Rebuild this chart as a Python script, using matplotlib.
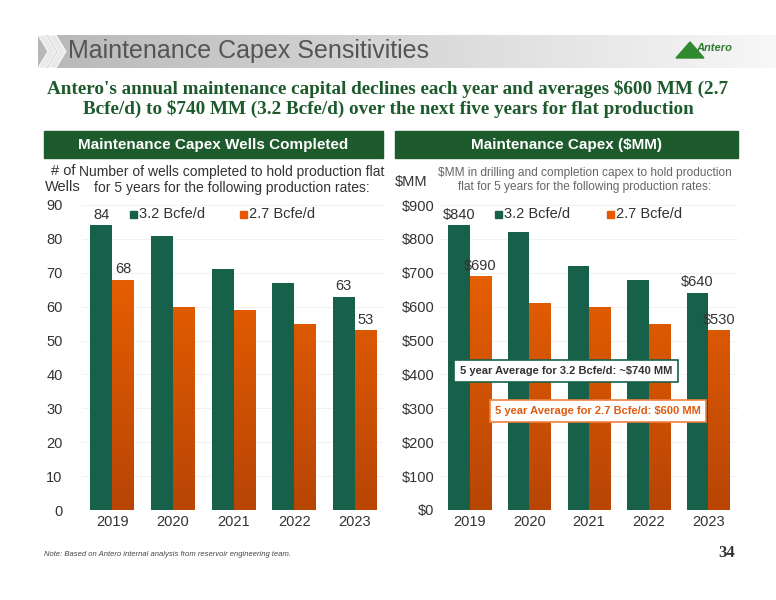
import numpy as np
import matplotlib
matplotlib.use("Agg")
import matplotlib.pyplot as plt
from matplotlib.patches import Rectangle, Polygon

plt.rcParams["font.family"] = ["Liberation Sans", "DejaVu Sans"]

years = ["2019", "2020", "2021", "2022", "2023"]
wells_32 = [84, 81, 71, 67, 63]
wells_27 = [68, 60, 59, 55, 53]
capex_32 = [840, 820, 720, 680, 640]
capex_27 = [690, 610, 600, 550, 530]

GREEN = "#17614a"
DKGREEN = "#1d5a2c"
ORANGE_TOP = np.array([0xf4, 0x66, 0x00]) / 255
ORANGE_BOT = np.array([0xb8, 0x45, 0x05]) / 255
W, H = 776, 600

fig = plt.figure(figsize=(7.76, 6), dpi=100)


def fx(x):
    return x / W


def fy(y):
    return 1 - y / H


# header band
grad = np.linspace(0.72, 0.97, 256)[None, :]
bg = fig.add_axes([fx(38), fy(68), fx(738), (68 - 35) / H])
bg.imshow(np.dstack([grad] * 3), aspect="auto", extent=[0, 1, 0, 1])
bg.axis("off")
for dx in (0, 10):
    fig.patches.append(Polygon([(fx(38 + dx), fy(35)), (fx(46 + dx), fy(35)), (fx(56 + dx), fy(51.5)),
                                (fx(46 + dx), fy(68)), (fx(38 + dx), fy(68)), (fx(48 + dx), fy(51.5))],
                               closed=True, transform=fig.transFigure, color="white", alpha=0.7))
fig.text(fx(68), fy(51), "Maintenance Capex Sensitivities", fontsize=18, color="#555555", va="center")
fig.patches.append(Polygon([(fx(676), fy(58)), (fx(690), fy(42)), (fx(704), fy(58))], closed=True,
                           transform=fig.transFigure, color="#2f8a2f"))
fig.text(fx(696), fy(51), "Antero", fontsize=8, color="#2f7a2f", fontstyle="italic", fontweight="bold")

fig.text(0.5, fy(99), "Antero's annual maintenance capital declines each year and averages $600 MM (2.7\n"
         "Bcfe/d) to $740 MM (3.2 Bcfe/d) over the next five years for flat production",
         ha="center", va="center", fontsize=13.8, fontweight="bold", color=DKGREEN,
         family="Liberation Serif", linespacing=1.2)

# section headers
for x0, x1, txt in [(44, 383, "Maintenance Capex Wells Completed"), (395, 738, "Maintenance Capex ($MM)")]:
    fig.patches.append(Rectangle((fx(x0), fy(158)), fx(x1 - x0), 27 / H, transform=fig.transFigure,
                                 color=DKGREEN))
    fig.text(fx((x0 + x1) / 2), fy(145), txt, ha="center", va="center", color="white", fontsize=11,
             fontweight="bold")


def draw(ax, v32, v27, ymax, step, fmt, labels):
    x = np.arange(len(years))
    bw = 0.36
    ax.bar(x - bw / 2, v32, bw, color=GREEN, zorder=2)
    bars = ax.bar(x + bw / 2, v27, bw, color="none", zorder=2)
    cmap = np.linspace(0, 1, 256)[:, None, None]
    img = ORANGE_TOP[None, None, :] * (1 - cmap) + ORANGE_BOT[None, None, :] * cmap
    for b in bars:
        im = ax.imshow(img, aspect="auto", extent=[x[0] - 0.5, x[-1] + 0.5, 0, ymax], zorder=2)
        im.set_clip_path(b)
    ax.set_xlim(-0.5, 4.5)
    ax.set_ylim(0, ymax)
    ax.set_yticks(np.arange(0, ymax + 1, step))
    ax.set_yticklabels([fmt(v) for v in np.arange(0, ymax + 1, step)], fontsize=10.5, color="#333333")
    ax.set_xticks(x)
    ax.set_xticklabels(years, fontsize=10.5, color="#333333")
    ax.tick_params(length=0)
    for s in ax.spines.values():
        s.set_visible(False)
    ax.grid(axis="y", color="#f0f0f0", lw=0.6, zorder=0)
    for idx, series in labels:
        vals, off = (v32, -bw / 2) if series == 0 else (v27, bw / 2)
        ax.text(idx + off, vals[idx] + ymax * 0.012, fmt(vals[idx]), ha="center", va="bottom",
                fontsize=10.5, color="#333333", zorder=3)
    return x


ax1 = fig.add_axes([fx(82), fy(510), fx(385 - 82), (510 - 205) / H])
draw(ax1, wells_32, wells_27, 90, 10, lambda v: f"{v:.0f}", [(0, 0), (0, 1), (4, 0), (4, 1)])
ax1.tick_params(axis="y", pad=14)

ax2 = fig.add_axes([fx(440), fy(510), fx(738 - 440), (510 - 205) / H])
draw(ax2, capex_32, capex_27, 900, 100, lambda v: f"${v:.0f}", [(0, 0), (0, 1), (4, 0), (4, 1)])
ax2.tick_params(axis="y", pad=4)

# axis titles / subtitles
fig.text(fx(63), fy(179), "# of\nWells", ha="center", va="center", fontsize=10.5, color="#333333",
         linespacing=1.1)
fig.text(fx(232), fy(180), "Number of wells completed to hold production flat\nfor 5 years for the following production rates:",
         ha="center", va="center", fontsize=10, color="#333333")
fig.text(fx(411), fy(182), "$MM", ha="center", va="center", fontsize=10.5, color="#333333")
fig.text(fx(585), fy(180), "$MM in drilling and completion capex to hold production\nflat for 5 years for the following production rates:",
         ha="center", va="center", fontsize=8.6, color="#666666")

# legends
for lx, col, lab in [(130, GREEN, "3.2 Bcfe/d"), (240, "#e85800", "2.7 Bcfe/d"),
                     (495, GREEN, "3.2 Bcfe/d"), (607, "#e85800", "2.7 Bcfe/d")]:
    fig.patches.append(Rectangle((fx(lx), fy(218)), fx(7), 7 / H, transform=fig.transFigure, color=col))
    fig.text(fx(lx + 9), fy(214), lab, va="center", fontsize=10.5, color="#333333")

# average boxes
fig.text(fx(566), fy(371), "5 year Average for 3.2 Bcfe/d: ~$740 MM", ha="center", va="center",
         fontsize=8, fontweight="bold", color="#333333",
         bbox=dict(boxstyle="square,pad=0.5", fc="white", ec=GREEN, lw=1.2))
fig.text(fx(598), fy(411), "5 year Average for 2.7 Bcfe/d: $600 MM", ha="center", va="center",
         fontsize=8, fontweight="bold", color="#e05a10",
         bbox=dict(boxstyle="square,pad=0.5", fc="white", ec="#f08040", lw=1.2))

fig.text(fx(44), fy(555), "Note: Based on Antero internal analysis from reservoir engineering team.",
         fontsize=5.5, fontstyle="italic", color="#444444", va="center")
fig.text(fx(735), fy(553), "34", fontsize=12, fontweight="bold", family="Liberation Serif",
         color="#333333", ha="right", va="center")

fig.savefig("out.png", dpi=100)
